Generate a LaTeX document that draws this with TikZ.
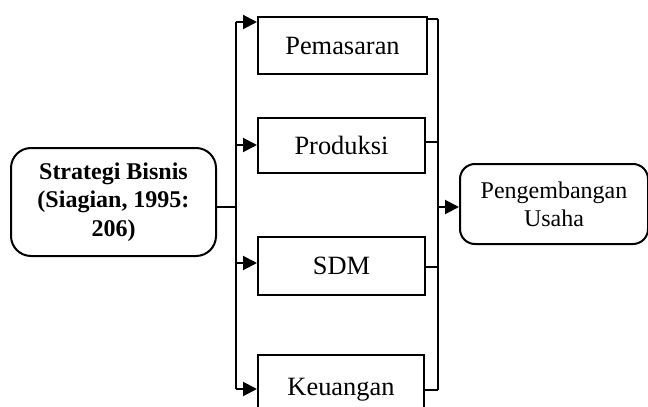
\documentclass[tikz,border=0pt]{standalone}
\usepackage{fontspec}
\setmainfont{Liberation Serif}
\usetikzlibrary{arrows.meta}
\begin{document}
\begin{tikzpicture}[x=0.5pt,y=-0.5pt,line width=1pt,
  box/.style={draw,anchor=north west,inner sep=0pt,align=center,font=\fontsize{13.2}{15}\selectfont},
  rbox/.style={draw,rounded corners=9pt,anchor=north west,inner sep=0pt,align=center,font=\fontsize{12}{14}\selectfont},
  arr/.style={-{Triangle[length=7pt,width=7pt]}}]
\useasboundingbox (0,0) rectangle (648,407);
\clip (0,0) rectangle (648,407);
% nodes
\node[rbox,rounded corners=10pt,minimum width=102.5pt,minimum height=54pt,font=\bfseries\fontsize{12}{14.3}\selectfont] (S) at (10,147) {Strategi Bisnis\\(Siagian, 1995:\\206)};
\node[box,minimum width=84.5pt,minimum height=28.5pt] (P) at (257,16) {Pemasaran};
\node[box,minimum width=83.5pt,minimum height=27.5pt] (R) at (257,117) {Produksi};
\node[box,minimum width=83.5pt,minimum height=29pt] (D) at (257,236) {SDM};
\node[box,minimum width=83pt,minimum height=35pt] (K) at (257,354) {Keuangan};
\node[rbox,rounded corners=7.5pt,minimum width=94pt,minimum height=40pt] (E) at (459,163) {Pengembangan\\Usaha};
% bus coordinates
\coordinate (lb) at (236,207);
\coordinate (lt) at (236,22);
\coordinate (l2) at (236,145);
\coordinate (l3) at (236,263);
\coordinate (l4) at (236,389);
\coordinate (rt) at (438,19);
\coordinate (r2) at (438,142);
\coordinate (r3) at (438,267);
\coordinate (r4) at (438,390);
\coordinate (rm) at (438,207);
% connectors
\draw (S.east |- lb) -- (lb);
\draw (lt) -- (l4);
\draw[arr] (lt) -- (lt -| P.west);
\draw[arr] (l2) -- (l2 -| R.west);
\draw[arr] (l3) -- (l3 -| D.west);
\draw[arr] (l4) -- (l4 -| K.west);
\draw (rt -| P.east) -- (rt);
\draw (r2 -| R.east) -- (r2);
\draw (r3 -| D.east) -- (r3);
\draw (r4 -| K.east) -- (r4);
\draw (rt) -- (r4);
\draw[arr] (rm) -- (rm -| E.west);
\end{tikzpicture}
\end{document}
